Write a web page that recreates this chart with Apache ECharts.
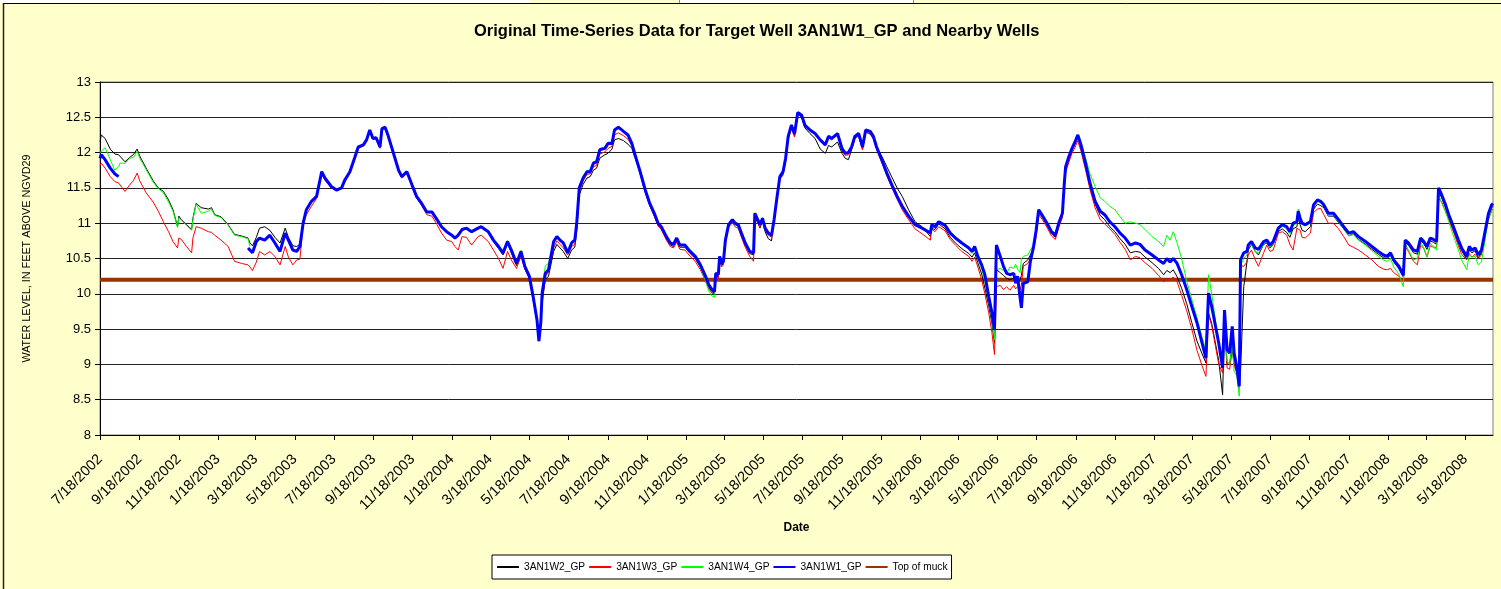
<!DOCTYPE html>
<html>
<head>
<meta charset="utf-8">
<script src="https://cdn.jsdelivr.net/npm/echarts@6/dist/echarts.min.js"></script>
<style>
  html, body { margin: 0; padding: 0; background: #FFFFCC; }
  #chart { width: 1501px; height: 589px; }
</style>
</head>
<body>
<div id="chart"></div>
<script>
// sample dates (shared by all wells)
const dates = [
  '2002-07-18','2002-07-20','2002-07-26','2002-08-03','2002-08-10','2002-08-16','2002-08-18','2002-08-26','2002-09-02','2002-09-08',
  '2002-09-14','2002-09-18','2002-09-28','2002-10-09','2002-10-17','2002-10-25','2002-11-02','2002-11-09','2002-11-16','2002-11-18',
  '2002-11-22','2002-11-30','2002-12-08','2002-12-10','2002-12-15','2002-12-23','2003-01-03','2003-01-08','2003-01-13','2003-01-23',
  '2003-02-03','2003-02-13','2003-02-24','2003-03-06','2003-03-09','2003-03-13','2003-03-19','2003-03-24','2003-03-27','2003-04-01',
  '2003-04-09','2003-04-17','2003-04-25','2003-05-03','2003-05-08','2003-05-15','2003-05-21','2003-05-26','2003-05-31','2003-06-05',
  '2003-06-13','2003-06-21','2003-06-29','2003-07-04','2003-07-14','2003-07-22','2003-07-30','2003-08-04','2003-08-12','2003-08-20',
  '2003-08-25','2003-09-02','2003-09-07','2003-09-12','2003-09-17','2003-09-22','2003-09-28','2003-10-01','2003-10-06','2003-10-11',
  '2003-10-19','2003-10-27','2003-11-01','2003-11-09','2003-11-17','2003-11-24','2003-12-02','2003-12-10','2003-12-18','2003-12-26',
  '2004-01-02','2004-01-10','2004-01-18','2004-01-23','2004-01-28','2004-02-03','2004-02-10','2004-02-18','2004-02-28','2004-03-04',
  '2004-03-15','2004-03-23','2004-03-31','2004-04-07','2004-04-14','2004-04-20','2004-04-28','2004-05-05','2004-05-11','2004-05-18',
  '2004-05-24','2004-05-30','2004-06-02','2004-06-05','2004-06-07','2004-06-12','2004-06-17','2004-06-25','2004-06-30','2004-07-05',
  '2004-07-10','2004-07-17','2004-07-23','2004-07-28','2004-07-31','2004-08-04','2004-08-10','2004-08-16','2004-08-21','2004-08-26',
  '2004-08-31','2004-09-05','2004-09-13','2004-09-18','2004-09-24','2004-09-28','2004-10-04','2004-10-12','2004-10-19','2004-10-25',
  '2004-10-30','2004-11-07','2004-11-15','2004-11-22','2004-11-30','2004-12-05','2004-12-10','2004-12-18','2004-12-24','2004-12-29',
  '2005-01-03','2005-01-08','2005-01-16','2005-01-24','2005-02-01','2005-02-09','2005-02-17','2005-02-22','2005-02-27','2005-03-03',
  '2005-03-05','2005-03-09','2005-03-11','2005-03-14','2005-03-17','2005-03-20','2005-03-25','2005-03-31','2005-04-04','2005-04-09',
  '2005-04-14','2005-04-20','2005-04-27','2005-05-03','2005-05-05','2005-05-08','2005-05-13','2005-05-17','2005-05-21','2005-05-26',
  '2005-05-31','2005-06-04','2005-06-08','2005-06-13','2005-06-18','2005-06-22','2005-06-26','2005-07-01','2005-07-06','2005-07-11',
  '2005-07-17','2005-07-22','2005-07-30','2005-08-07','2005-08-15','2005-08-23','2005-08-28','2005-09-02','2005-09-11','2005-09-18',
  '2005-09-23','2005-09-28','2005-10-03','2005-10-08','2005-10-14','2005-10-20','2005-10-25','2005-11-01','2005-11-06','2005-11-11',
  '2005-11-19','2005-11-27','2005-12-05','2005-12-13','2005-12-21','2005-12-31','2006-01-10','2006-01-21','2006-02-03','2006-02-05',
  '2006-02-10','2006-02-16','2006-02-26','2006-03-06','2006-03-14','2006-03-24','2006-04-04','2006-04-09','2006-04-13','2006-04-18',
  '2006-04-24','2006-04-29','2006-05-05','2006-05-10','2006-05-14','2006-05-17','2006-05-23','2006-05-28','2006-06-02','2006-06-07',
  '2006-06-13','2006-06-16','2006-06-19','2006-06-23','2006-06-25','2006-06-28','2006-07-05','2006-07-09','2006-07-14','2006-07-18',
  '2006-07-22','2006-07-27','2006-08-04','2006-08-11','2006-08-17','2006-08-23','2006-08-28','2006-08-31','2006-09-02','2006-09-07',
  '2006-09-12','2006-09-17','2006-09-21','2006-09-26','2006-10-03','2006-10-10','2006-10-18','2006-10-26','2006-11-02','2006-11-10',
  '2006-11-18','2006-11-26','2006-12-04','2006-12-12','2006-12-20','2006-12-27','2007-01-04','2007-01-15','2007-01-25','2007-02-02',
  '2007-02-07','2007-02-12','2007-02-17','2007-02-23','2007-03-02','2007-03-10','2007-03-18','2007-03-26','2007-04-03','2007-04-09',
  '2007-04-13','2007-04-18','2007-04-29','2007-05-05','2007-05-08','2007-05-12','2007-05-16','2007-05-20','2007-05-23','2007-05-27',
  '2007-05-31','2007-06-02','2007-06-07','2007-06-12','2007-06-14','2007-06-19','2007-06-25','2007-06-30','2007-07-08','2007-07-13',
  '2007-07-18','2007-07-23','2007-07-31','2007-08-06','2007-08-13','2007-08-18','2007-08-23','2007-08-29','2007-08-31','2007-09-03',
  '2007-09-06','2007-09-11','2007-09-19','2007-09-24','2007-09-30','2007-10-05','2007-10-10','2007-10-17','2007-10-25','2007-11-02',
  '2007-11-10','2007-11-18','2007-11-25','2007-12-03','2007-12-14','2007-12-24','2008-01-03','2008-01-11','2008-01-17','2008-01-22',
  '2008-01-27','2008-02-04','2008-02-11','2008-02-14','2008-02-19','2008-02-27','2008-03-04','2008-03-09','2008-03-14','2008-03-19',
  '2008-03-24','2008-03-29','2008-04-03','2008-04-06','2008-04-11','2008-04-17','2008-04-22','2008-04-30','2008-05-07','2008-05-12',
  '2008-05-20','2008-05-24','2008-05-28','2008-06-02','2008-06-07','2008-06-12','2008-06-18','2008-06-23','2008-06-28','2008-06-30'
];

// 3AN1W2_GP (black)
const w2 = [
  12.15,12.25,12.20,12.05,11.98,11.97,11.95,11.87,11.93,11.97,
  12.05,11.95,11.78,11.60,11.50,11.45,11.33,11.19,10.95,11.10,
  11.05,10.98,10.91,11.07,11.28,11.22,11.20,11.22,11.12,11.09,
  10.98,10.84,10.82,10.79,10.72,10.68,10.80,10.93,10.93,10.95,
  10.90,10.80,10.72,10.93,10.80,10.68,10.67,10.70,11.00,11.18,
  11.30,11.37,11.72,11.63,11.52,11.47,11.50,11.60,11.72,11.93,
  12.07,12.10,12.17,12.31,12.20,12.21,12.07,12.33,12.35,12.22,
  11.98,11.74,11.65,11.72,11.53,11.37,11.27,11.15,11.15,11.04,
  10.94,10.87,10.82,10.78,10.82,10.90,10.92,10.87,10.92,10.94,
  10.87,10.74,10.64,10.55,10.71,10.58,10.40,10.56,10.35,10.22,
  9.92,9.60,9.33,9.58,9.87,10.20,10.25,10.60,10.70,10.65,
  10.60,10.50,10.62,10.66,10.90,11.40,11.55,11.64,11.66,11.75,
  11.78,11.92,11.97,11.99,12.05,12.18,12.20,12.17,12.12,12.06,
  11.93,11.70,11.43,11.25,11.08,10.97,10.92,10.78,10.69,10.67,
  10.76,10.66,10.66,10.57,10.50,10.38,10.22,10.10,10.03,10.01,
  10.26,10.24,10.50,10.40,10.43,10.73,10.96,11.04,10.98,10.96,
  10.84,10.70,10.57,10.55,11.12,11.14,10.93,11.04,10.88,10.78,
  10.75,11.02,11.30,11.63,11.70,11.89,12.20,12.36,12.24,12.55,
  12.50,12.35,12.27,12.20,12.05,11.99,12.10,12.08,12.15,11.99,
  11.92,11.90,12.04,12.20,12.24,12.05,12.29,12.27,12.21,12.08,
  11.95,11.80,11.65,11.50,11.38,11.19,11.02,10.95,10.81,10.93,
  10.91,10.99,10.92,10.80,10.72,10.64,10.57,10.52,10.58,10.44,
  10.28,10.08,9.83,9.58,9.30,10.34,10.30,10.26,10.22,10.20,
  10.22,10.18,10.15,10.20,10.26,10.43,10.48,10.55,10.64,10.86,
  11.16,11.09,10.97,10.85,10.80,10.99,11.11,11.54,11.77,11.91,
  12.03,12.13,12.22,12.07,11.80,11.52,11.27,11.11,11.05,10.95,
  10.88,10.78,10.70,10.58,10.60,10.59,10.52,10.44,10.36,10.27,
  10.33,10.30,10.34,10.24,10.08,9.86,9.59,9.33,9.15,9.02,
  9.73,9.58,9.05,8.57,9.60,9.00,9.00,9.30,9.00,8.90,
  8.67,8.90,10.10,10.45,10.62,10.70,10.60,10.55,10.70,10.72,
  10.65,10.70,10.88,10.92,10.87,10.80,10.92,10.95,11.08,10.98,
  10.90,10.88,10.95,11.20,11.27,11.25,11.22,11.10,11.10,11.01,
  10.92,10.82,10.85,10.77,10.70,10.63,10.56,10.51,10.50,10.55,
  10.45,10.36,10.24,10.73,10.69,10.58,10.56,10.75,10.71,10.63,
  10.75,10.73,10.70,11.45,11.36,11.22,11.08,10.89,10.72,10.61,
  10.49,10.63,10.58,10.61,10.51,10.58,10.86,11.10,11.22,11.24
];

// 3AN1W3_GP (red)
const w3 = [
  11.82,11.85,11.78,11.66,11.59,11.57,11.57,11.45,11.54,11.60,
  11.71,11.60,11.43,11.30,11.17,11.02,10.88,10.74,10.65,10.79,
  10.77,10.67,10.58,10.79,10.95,10.93,10.88,10.87,10.83,10.76,
  10.67,10.46,10.43,10.41,10.38,10.33,10.45,10.60,10.58,10.55,
  10.60,10.53,10.41,10.67,10.52,10.41,10.48,10.49,10.98,11.12,
  11.24,11.35,11.70,11.61,11.50,11.46,11.49,11.59,11.71,11.92,
  12.06,12.09,12.16,12.30,12.19,12.20,12.06,12.32,12.34,12.21,
  11.97,11.73,11.64,11.71,11.52,11.36,11.25,11.12,11.10,10.98,
  10.86,10.76,10.74,10.67,10.62,10.81,10.80,10.69,10.81,10.83,
  10.74,10.62,10.50,10.36,10.60,10.48,10.36,10.53,10.36,10.24,
  9.94,9.62,9.33,9.60,9.95,10.25,10.30,10.65,10.75,10.70,
  10.65,10.55,10.67,10.70,10.94,11.45,11.60,11.69,11.70,11.80,
  11.82,11.98,12.01,12.06,12.09,12.25,12.28,12.24,12.19,12.10,
  11.95,11.72,11.45,11.26,11.08,10.96,10.91,10.76,10.67,10.65,
  10.73,10.63,10.62,10.53,10.46,10.34,10.18,10.07,10.01,10.00,
  10.25,10.22,10.48,10.38,10.41,10.71,10.94,11.01,10.95,10.93,
  10.80,10.66,10.53,10.46,11.08,11.10,10.94,11.03,10.90,10.83,
  10.80,11.02,11.30,11.62,11.68,11.87,12.18,12.34,12.22,12.55,
  12.53,12.40,12.34,12.27,12.17,12.10,12.21,12.18,12.25,12.03,
  11.96,11.97,12.05,12.20,12.24,12.04,12.29,12.26,12.19,12.04,
  11.86,11.67,11.50,11.34,11.19,11.05,10.92,10.85,10.76,10.92,
  10.88,10.95,10.89,10.77,10.69,10.60,10.53,10.46,10.52,10.38,
  10.20,10.00,9.73,9.45,9.14,10.10,10.12,10.06,10.10,10.05,
  10.12,10.07,10.10,10.06,10.12,10.39,10.43,10.50,10.62,10.81,
  11.12,11.06,10.94,10.82,10.77,10.96,11.08,11.50,11.72,11.86,
  11.99,12.08,12.17,12.02,11.76,11.48,11.22,11.05,10.99,10.92,
  10.84,10.73,10.63,10.48,10.53,10.51,10.44,10.36,10.26,10.17,
  10.20,10.19,10.24,10.17,9.98,9.76,9.50,9.20,8.98,8.83,
  9.70,9.55,9.00,8.88,9.55,8.95,8.93,9.20,9.00,8.88,
  8.66,10.40,10.39,10.45,10.55,10.62,10.48,10.39,10.58,10.69,
  10.60,10.62,10.86,10.88,10.83,10.70,10.62,10.93,10.95,10.90,
  10.80,10.79,10.86,11.15,11.20,11.21,11.12,11.00,11.00,10.92,
  10.81,10.69,10.66,10.62,10.55,10.48,10.39,10.35,10.34,10.36,
  10.30,10.25,10.18,10.67,10.60,10.46,10.41,10.69,10.64,10.52,
  10.68,10.66,10.66,11.35,11.30,11.16,11.05,10.86,10.68,10.56,
  10.48,10.57,10.52,10.56,10.50,10.55,10.85,11.05,11.18,11.20
];

// 3AN1W4_GP (green)
const w4 = [
  12.00,12.02,12.07,11.90,11.75,11.80,11.85,11.85,11.92,11.93,
  12.02,11.92,11.76,11.58,11.49,11.43,11.30,11.17,10.94,11.08,
  11.04,10.97,10.90,11.05,11.27,11.14,11.17,11.20,11.11,11.08,
  10.97,10.83,10.81,10.78,10.67,null,null,null,null,null,
  null,null,null,null,null,null,null,10.65,11.00,11.20,
  11.32,11.38,11.73,11.64,11.53,11.48,11.51,11.61,11.73,11.94,
  12.08,12.12,12.19,12.32,12.21,12.22,12.08,12.34,12.36,12.23,
  11.99,11.75,11.66,11.73,11.54,11.38,11.28,11.16,11.16,11.05,
  10.95,10.88,10.83,10.79,10.83,10.91,10.93,10.88,10.93,10.95,
  10.88,10.76,10.67,10.58,10.76,10.62,10.44,10.62,10.40,10.26,
  9.98,9.66,9.35,9.65,10.05,10.40,10.43,10.76,10.82,10.78,
  10.73,10.60,10.73,10.78,11.01,11.52,11.67,11.75,11.75,11.87,
  11.89,12.06,12.08,12.15,12.15,12.33,12.36,12.31,12.26,12.14,
  11.98,11.74,11.48,11.29,11.12,11.01,10.96,10.82,10.73,10.70,
  10.79,10.69,10.68,10.58,10.50,10.37,10.19,10.04,9.97,9.95,
  10.31,10.26,10.53,10.42,10.45,10.75,10.97,11.06,11.02,10.99,
  10.87,10.73,10.61,10.58,11.15,11.17,10.99,11.08,10.94,10.87,
  10.84,11.06,11.34,11.67,11.74,11.93,12.24,12.40,12.28,12.57,
  12.53,12.38,12.31,12.26,12.19,12.12,12.24,12.21,12.28,12.07,
  12.00,12.01,12.09,12.24,12.28,12.09,12.33,12.31,12.24,12.09,
  11.91,11.72,11.55,11.39,11.25,11.11,10.99,10.94,10.87,10.99,
  10.96,11.03,10.98,10.88,10.81,10.73,10.63,10.57,10.62,10.50,
  10.35,10.18,9.90,9.63,9.35,10.34,10.36,10.33,10.29,10.38,
  10.36,10.42,10.35,10.30,10.50,10.53,10.55,10.62,10.69,10.92,
  11.20,11.13,11.01,10.89,10.84,11.03,11.15,11.58,11.81,11.95,
  12.07,12.17,12.26,12.14,11.93,11.70,11.52,11.36,11.31,11.24,
  11.19,11.09,11.00,11.02,11.00,10.98,10.91,10.81,10.74,10.67,
  10.83,10.76,10.88,10.72,10.50,10.18,9.92,9.66,9.38,9.21,
  10.27,10.00,9.30,9.10,9.70,9.05,9.00,9.30,8.90,8.85,
  8.55,10.40,10.50,10.55,10.65,10.70,10.60,10.58,10.70,10.74,
  10.66,10.71,10.92,10.96,10.92,10.85,10.97,11.00,11.20,11.05,
  10.98,10.96,11.00,11.24,11.31,11.29,11.24,11.11,11.11,11.02,
  10.92,10.82,10.84,10.76,10.69,10.61,10.53,10.48,10.46,10.50,
  10.38,10.28,10.10,10.71,10.62,10.48,10.50,10.74,10.65,10.52,
  10.72,10.66,10.62,11.42,11.28,11.17,11.02,10.80,10.62,10.48,
  10.34,10.55,10.52,10.53,10.41,10.45,10.78,11.08,11.17,11.20
];

// 3AN1W1_GP (blue, target well)
const w1 = [
  11.92,11.97,11.90,11.78,11.70,11.66,null,null,null,null,
  null,null,null,null,null,null,null,null,null,null,
  null,null,null,null,null,null,null,null,null,null,
  null,null,null,10.65,10.62,10.58,10.74,10.79,10.81,10.76,
  10.83,10.72,10.60,10.86,10.76,10.62,10.60,10.67,11.00,11.19,
  11.31,11.38,11.73,11.64,11.52,11.47,11.50,11.61,11.73,11.94,
  12.08,12.11,12.18,12.32,12.20,12.21,12.08,12.34,12.36,12.23,
  11.99,11.75,11.66,11.73,11.54,11.38,11.28,11.16,11.16,11.05,
  10.95,10.88,10.83,10.79,10.83,10.91,10.93,10.88,10.93,10.95,
  10.88,10.76,10.67,10.58,10.74,10.62,10.43,10.60,10.39,10.25,
  9.96,9.63,9.33,9.60,10.01,10.29,10.34,10.74,10.81,10.76,
  10.72,10.58,10.72,10.76,11.00,11.50,11.64,11.73,11.73,11.85,
  11.87,12.04,12.06,12.13,12.13,12.32,12.36,12.30,12.25,12.13,
  11.97,11.73,11.47,11.28,11.12,11.00,10.95,10.81,10.72,10.70,
  10.79,10.69,10.69,10.60,10.53,10.41,10.25,10.13,10.06,10.03,
  10.29,10.27,10.53,10.43,10.46,10.76,10.98,11.05,11.00,10.98,
  10.86,10.72,10.60,10.58,11.14,11.16,10.98,11.07,10.93,10.86,
  10.83,11.05,11.33,11.66,11.73,11.92,12.23,12.39,12.27,12.57,
  12.53,12.39,12.32,12.27,12.18,12.11,12.23,12.20,12.27,12.06,
  11.99,12.00,12.08,12.23,12.27,12.08,12.32,12.30,12.23,12.08,
  11.90,11.71,11.54,11.38,11.24,11.10,10.98,10.93,10.86,10.98,
  10.95,11.02,10.97,10.86,10.79,10.72,10.65,10.60,10.67,10.53,
  10.41,10.27,9.96,9.73,9.49,10.69,10.53,10.39,10.29,10.27,
  10.29,10.15,10.25,9.94,9.80,10.15,10.17,10.46,10.67,10.90,
  11.19,11.12,11.00,10.88,10.83,11.02,11.14,11.57,11.80,11.94,
  12.06,12.16,12.25,12.11,11.85,11.57,11.31,11.17,11.12,11.02,
  10.95,10.86,10.79,10.69,10.72,10.70,10.62,10.55,10.48,10.43,
  10.50,10.45,10.50,10.43,10.27,10.06,9.82,9.59,9.30,9.09,
  10.01,9.82,9.30,8.95,9.77,9.21,9.16,9.54,9.16,8.97,
  8.69,10.48,10.58,10.60,10.69,10.74,10.65,10.63,10.74,10.76,
  10.69,10.74,10.93,10.98,10.95,10.88,11.00,11.02,11.17,11.07,
  11.00,10.98,11.02,11.26,11.33,11.31,11.26,11.14,11.14,11.05,
  10.95,10.86,10.88,10.81,10.74,10.67,10.60,10.55,10.53,10.58,
  10.48,10.39,10.26,10.76,10.72,10.62,10.60,10.79,10.74,10.67,
  10.79,10.77,10.74,11.50,11.40,11.26,11.12,10.93,10.76,10.65,
  10.53,10.67,10.62,10.65,10.55,10.62,10.90,11.14,11.26,11.28
];

const muckLevel = 10.2;

const tickLabels = [
  '7/18/2002','9/18/2002','11/18/2002','1/18/2003','3/18/2003','5/18/2003',
  '7/18/2003','9/18/2003','11/18/2003','1/18/2004','3/18/2004','5/18/2004',
  '7/18/2004','9/18/2004','11/18/2004','1/18/2005','3/18/2005','5/18/2005',
  '7/18/2005','9/18/2005','11/18/2005','1/18/2006','3/18/2006','5/18/2006',
  '7/18/2006','9/18/2006','11/18/2006','1/18/2007','3/18/2007','5/18/2007',
  '7/18/2007','9/18/2007','11/18/2007','1/18/2008','3/18/2008','5/18/2008'
];

// one category per day, like the Excel date axis
const days = [];
for (let t = Date.UTC(2002, 6, 18); t <= Date.UTC(2008, 5, 30); t += 86400000) {
  days.push(new Date(t).toISOString().slice(0, 10));
}
const fmt = (s) => {
  const p = s.split('-');
  return (+p[1]) + '/' + (+p[2]) + '/' + p[0];
};
const tickSet = new Set(tickLabels);
const showTick = (i, v) => tickSet.has(fmt(v));

const pairs = (vals) => dates.map((d, i) => [d, vals[i]]);
const font = 'Liberation Sans, Arial, sans-serif';

var myChart = echarts.init(document.getElementById('chart'));

var option = {
  animation: false,
  backgroundColor: '#FFFFCC',
  textStyle: { fontFamily: font, color: '#000' },
  title: {
    text: 'Original Time-Series Data for Target Well 3AN1W1_GP and Nearby Wells',
    left: 469,
    top: 18,
    textStyle: { fontFamily: font, fontSize: 16.5, fontWeight: 'bold', color: '#000' }
  },
  legend: {
    data: ['3AN1W2_GP', '3AN1W3_GP', '3AN1W4_GP', '3AN1W1_GP', 'Top of muck'],
    left: 492,
    top: 555,
    padding: [7, 4, 7, 4],
    itemGap: 3,
    itemWidth: 22,
    itemHeight: 10,
    borderColor: '#000',
    borderWidth: 1,
    backgroundColor: '#fff',
    itemStyle: { opacity: 0 },
    textStyle: { fontFamily: font, fontSize: 10.2, color: '#000' }
  },
  grid: {
    left: 100, right: 8, top: 82, bottom: 154,
    show: true, backgroundColor: '#fff', borderColor: '#808080', borderWidth: 1
  },
  graphic: [
    { type: 'rect', shape: { x: 0, y: 0, width: 1501, height: 3 }, style: { fill: '#fff' } },
    { type: 'rect', shape: { x: 530, y: 0, width: 149, height: 3 }, style: { fill: '#FFFFCC' } },
    { type: 'rect', shape: { x: 913, y: 0, width: 588, height: 3 }, style: { fill: '#FFFFCC' } },
    { type: 'line', shape: { x1: 679.5, y1: 0, x2: 679.5, y2: 3 }, style: { stroke: '#888', lineWidth: 1 } },
    { type: 'line', shape: { x1: 913.5, y1: 0, x2: 913.5, y2: 3 }, style: { stroke: '#888', lineWidth: 1 } },
    { type: 'line', shape: { x1: 3, y1: 3.5, x2: 1501, y2: 3.5 }, style: { stroke: '#000', lineWidth: 1 } },
    { type: 'line', shape: { x1: 3.5, y1: 3, x2: 3.5, y2: 589 }, style: { stroke: '#222', lineWidth: 1.5 } }
  ],
  xAxis: {
    type: 'category',
    data: days,
    boundaryGap: false,
    name: 'Date',
    nameLocation: 'middle',
    nameGap: 87,
    nameTextStyle: { fontFamily: font, fontSize: 12, fontWeight: 'bold', color: '#000' },
    axisLine: { lineStyle: { color: '#000', width: 1 } },
    axisTick: { show: true, interval: showTick, length: 5, lineStyle: { color: '#000' } },
    axisLabel: {
      interval: showTick,
      rotate: 45,
      margin: 22,
      fontSize: 14.5,
      color: '#000',
      fontFamily: font,
      formatter: fmt
    },
    splitLine: { show: false }
  },
  yAxis: {
    type: 'value',
    min: 8,
    max: 13,
    interval: 0.5,
    name: 'WATER LEVEL, IN FEET ABOVE NGVD29',
    nameLocation: 'middle',
    nameRotate: 90,
    nameGap: 67,
    nameTextStyle: { fontFamily: font, fontSize: 10.8, color: '#000' },
    axisLine: { show: true, lineStyle: { color: '#000', width: 1 } },
    axisTick: { show: true, length: 5, lineStyle: { color: '#000' } },
    axisLabel: { fontSize: 13, color: '#000', fontFamily: font, margin: 9 },
    splitLine: { lineStyle: { color: '#222', width: 1 } }
  },
  series: [
    {
      name: 'Top of muck', type: 'line', symbol: 'none', z: 1,
      lineStyle: { color: '#993300', width: 4 }, itemStyle: { color: '#993300' },
      data: [[days[0], muckLevel], [days[days.length - 1], muckLevel]]
    },
    {
      name: '3AN1W2_GP', type: 'line', symbol: 'none',
      lineStyle: { color: '#000000', width: 1 }, itemStyle: { color: '#000000' },
      data: pairs(w2)
    },
    {
      name: '3AN1W3_GP', type: 'line', symbol: 'none',
      lineStyle: { color: '#FF0000', width: 1 }, itemStyle: { color: '#FF0000' },
      data: pairs(w3)
    },
    {
      name: '3AN1W4_GP', type: 'line', symbol: 'none',
      lineStyle: { color: '#00FF00', width: 1 }, itemStyle: { color: '#00FF00' },
      data: pairs(w4)
    },
    {
      name: '3AN1W1_GP', type: 'line', symbol: 'none',
      lineStyle: { color: '#0000FF', width: 3 }, itemStyle: { color: '#0000FF' },
      data: pairs(w1)
    }
  ]
};

myChart.setOption(option);
</script>
</body>
</html>
